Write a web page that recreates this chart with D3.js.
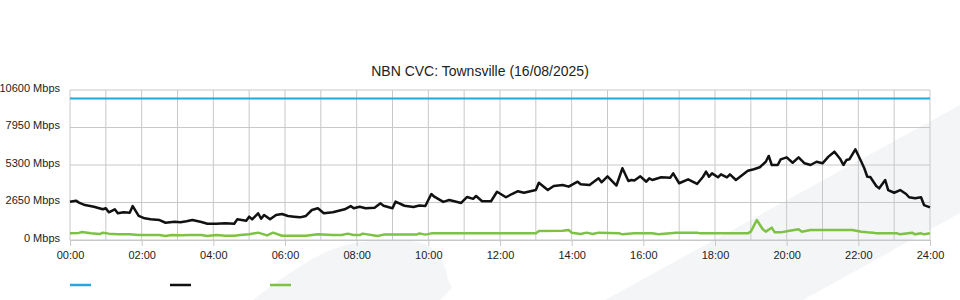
<!DOCTYPE html>
<html>
  <head>
    <title>NBN CVC: Townsville</title>
    <meta charset="utf-8" />
    <script src="https://d3js.org/d3.v7.min.js"></script>
    <style>
      body { margin: 0; background: #fff; }
      text { font-family: "Liberation Sans", Arial, sans-serif; fill: #222; }
    </style>
  </head>
  <body>
    <svg id="chart" width="960" height="300"></svg>

    <script>
      // Datos
      const title = "NBN CVC: Townsville (16/08/2025)";
      const yTicks = [0, 2650, 5300, 7950, 10600];
      const xTickLabels = ["00:00", "02:00", "04:00", "06:00", "08:00", "10:00", "12:00",
        "14:00", "16:00", "18:00", "20:00", "22:00", "24:00"];

      // Capacidad (línea azul)
      const capacityTimes = ["00:00", "24:00"];
      const capacityMbps = [10000, 10000];

      // Tráfico (línea negra)
      const trafficTimes = ["00:00", "00:10", "00:15", "00:25", "00:40", "00:55", "01:00", "01:05", "01:15", "01:20",
        "01:30", "01:40", "01:45", "01:55", "02:05", "02:15", "02:30", "02:40", "02:55", "03:05",
        "03:15", "03:25", "03:40", "03:50", "04:05", "04:20", "04:35", "04:40", "04:55", "05:00",
        "05:05", "05:15", "05:20", "05:25", "05:35", "05:45", "05:55", "06:05", "06:15", "06:25",
        "06:35", "06:45", "06:55", "07:05", "07:20", "07:40", "07:50", "07:55", "08:05", "08:15",
        "08:30", "08:40", "08:45", "09:00", "09:05", "09:20", "09:35", "09:45", "09:55", "10:05",
        "10:10", "10:25", "10:35", "10:40", "10:55", "11:05", "11:15", "11:20", "11:30", "11:45",
        "11:55", "12:10", "12:20", "12:30", "12:40", "13:00", "13:05", "13:20", "13:30", "13:45",
        "13:55", "14:10", "14:15", "14:30", "14:45", "14:50", "15:00", "15:15", "15:25", "15:35",
        "15:40", "15:45", "15:55", "16:05", "16:10", "16:15", "16:30", "16:45", "16:50", "17:00",
        "17:15", "17:30", "17:40", "17:45", "17:50", "17:55", "18:05", "18:10", "18:20", "18:25",
        "18:35", "18:55", "19:05", "19:15", "19:25", "19:30", "19:35", "19:45", "19:50", "20:00",
        "20:10", "20:20", "20:30", "20:40", "20:50", "21:00", "21:10", "21:20", "21:30", "21:35",
        "21:40", "21:45", "21:55", "22:05", "22:10", "22:15", "22:20", "22:30", "22:35", "22:45",
        "22:50", "23:00", "23:10", "23:20", "23:25", "23:35", "23:45", "23:50", "24:00"];
      const trafficMbps = [2710, 2780, 2640, 2470, 2350, 2170, 2240, 1960, 2170, 1890,
        1960, 1930, 2400, 1700, 1530, 1460, 1410, 1220, 1290, 1250,
        1320, 1410, 1270, 1150, 1150, 1180, 1150, 1460, 1360, 1650,
        1460, 1890, 1500, 1770, 1460, 1770, 1840, 1700, 1650, 1600,
        1700, 2120, 2240, 1890, 1960, 2170, 2400, 2240, 2350, 2240,
        2280, 2590, 2420, 2240, 2710, 2420, 2330, 2440, 2400, 3250,
        3060, 2690, 2830, 2780, 2620, 3040, 2910, 3110, 2740, 2740,
        3410, 3020, 3250, 3450, 3340, 3530, 4050, 3530, 3820, 3890,
        3770, 4120, 3940, 3890, 4360, 4080, 4500, 3850, 5070, 4170,
        4240, 4200, 4500, 4120, 4360, 4240, 4430, 4400, 4710, 4010,
        4290, 3960, 4470, 4830, 4470, 4710, 4430, 4640, 4430, 4640,
        4240, 4900, 5000, 5140, 5530, 5940, 5300, 5300, 5700, 5840,
        5460, 5840, 5420, 5300, 5530, 5420, 5890, 6240, 5700, 5300,
        5650, 5700, 6410, 5530, 5070, 4470, 4450, 3820, 3650, 4240,
        3530, 3340, 3530, 3250, 3020, 2950, 3020, 2470, 2310];

      // Línea verde
      const otherTimes = ["00:00", "00:15", "00:20", "00:35", "00:50", "00:55", "01:05", "01:20", "01:40", "01:55",
        "02:30", "02:40", "02:50", "03:05", "03:20", "03:40", "03:50", "04:05", "04:20", "04:35",
        "04:45", "05:00", "05:15", "05:30", "05:40", "05:55", "06:10", "06:25", "06:35", "06:55",
        "07:20", "07:35", "07:45", "07:55", "08:05", "08:10", "08:35", "08:45", "09:40", "09:45",
        "09:55", "10:05", "13:00", "13:05", "13:45", "13:55", "14:00", "14:15", "14:25", "14:35",
        "14:45", "15:20", "15:25", "15:45", "16:15", "16:25", "16:55", "17:30", "17:35", "18:55",
        "19:00", "19:10", "19:20", "19:25", "19:35", "19:40", "19:50", "20:05", "20:20", "20:25",
        "20:40", "21:50", "22:05", "22:15", "22:25", "22:30", "23:05", "23:10", "23:30", "23:35",
        "23:45", "23:50", "24:00"];
      const otherMbps = [470, 500, 565, 470, 420, 520, 450, 400, 400, 350,
        350, 280, 350, 330, 350, 350, 280, 350, 300, 300,
        350, 400, 520, 330, 520, 300, 300, 300, 300, 400,
        350, 350, 450, 350, 350, 450, 280, 380, 380, 470,
        380, 470, 470, 640, 660, 710, 520, 420, 520, 420,
        520, 470, 400, 470, 470, 400, 520, 520, 470, 470,
        590, 1410, 760, 590, 870, 540, 540, 660, 760, 590,
        710, 710, 590, 540, 520, 470, 470, 400, 520, 400,
        470, 400, 470];

      const width = 960;
      const height = 300;
      const margin = { top: 90, right: 30, bottom: 60, left: 70 };
      const svg = d3.select("#chart");

      // "HH:MM" -> horas
      const toHours = (t) => {
        const [h, m] = t.split(":").map(Number);
        return h + m / 60;
      };
      const series = (times, values) => times.map((t, i) => ({ h: toHours(t), v: values[i] }));

      // Escalas
      const xScale = d3.scaleLinear().domain([0, 24]).range([margin.left, width - margin.right]);
      const yScale = d3.scaleLinear().domain([0, 10600]).range([height - margin.bottom, margin.top]);

      // Formas de fondo
      svg.append("path")
        .attr("d", "M605,300 L960,105 L960,213 L803,300 Z")
        .attr("fill", "#f4f5f7");
      svg.append("path")
        .attr("d", "M253,300 C285,275 320,250 350,244 C375,239 400,239 418,242 C435,246 444,258 448,280 L452,288 L440,300 Z")
        .attr("fill", "#f4f5f7");

      // Rejilla vertical (cada hora)
      svg.append("g")
        .selectAll("line")
        .data(d3.range(0, 25))
        .join("line")
        .attr("x1", (d) => xScale(d))
        .attr("x2", (d) => xScale(d))
        .attr("y1", yScale(10600))
        .attr("y2", yScale(0))
        .attr("stroke", "#c8c8c8")
        .attr("stroke-width", 1);

      // Rejilla horizontal
      svg.append("g")
        .selectAll("line")
        .data(yTicks)
        .join("line")
        .attr("x1", xScale(0))
        .attr("x2", xScale(24))
        .attr("y1", (d) => yScale(d))
        .attr("y2", (d) => yScale(d))
        .attr("stroke", "#c8c8c8")
        .attr("stroke-width", 1);

      // Eje x
      const xAxis = d3.axisBottom(xScale)
        .tickValues(d3.range(0, 25, 2))
        .tickFormat((d, i) => xTickLabels[i])
        .tickSize(6)
        .tickPadding(5);
      const gx = svg.append("g")
        .attr("transform", `translate(0,${yScale(0)})`)
        .call(xAxis);
      gx.select(".domain").attr("stroke", "#c8c8c8");
      gx.selectAll(".tick line").attr("stroke", "#c8c8c8");
      gx.selectAll(".tick text")
        .attr("font-size", "11px")
        .attr("font-family", "Liberation Sans, Arial, sans-serif")
        .attr("fill", "#222");

      // Etiquetas del eje y
      svg.append("g")
        .selectAll("text")
        .data(yTicks)
        .join("text")
        .attr("x", 60)
        .attr("y", (d) => yScale(d) - 2)
        .attr("dy", "0.35em")
        .attr("text-anchor", "end")
        .attr("font-size", "11px")
        .text((d) => `${d} Mbps`);

      // Líneas de datos
      const line = d3.line()
        .x((d) => xScale(d.h))
        .y((d) => yScale(d.v));

      svg.append("path")
        .datum(series(capacityTimes, capacityMbps))
        .attr("fill", "none")
        .attr("stroke", "#24a6e0")
        .attr("stroke-width", 2)
        .attr("d", line);

      svg.append("path")
        .datum(series(otherTimes, otherMbps))
        .attr("fill", "none")
        .attr("stroke", "#7dc242")
        .attr("stroke-width", 2.5)
        .attr("stroke-linejoin", "round")
        .attr("d", line);

      svg.append("path")
        .datum(series(trafficTimes, trafficMbps))
        .attr("fill", "none")
        .attr("stroke", "#111")
        .attr("stroke-width", 2.5)
        .attr("stroke-linejoin", "round")
        .attr("d", line);

      // Título
      svg.append("text")
        .attr("x", width / 2)
        .attr("y", 76)
        .attr("text-anchor", "middle")
        .attr("font-size", "14px")
        .text(title);

      // Leyenda (solo muestras de color)
      const legendColors = ["#24a6e0", "#111", "#7dc242"];
      svg.append("g")
        .selectAll("line")
        .data(legendColors)
        .join("line")
        .attr("x1", (d, i) => 70 + i * 100)
        .attr("x2", (d, i) => 91 + i * 100)
        .attr("y1", 285)
        .attr("y2", 285)
        .attr("stroke", (d) => d)
        .attr("stroke-width", 2.5);
    </script>
  </body>
</html>
